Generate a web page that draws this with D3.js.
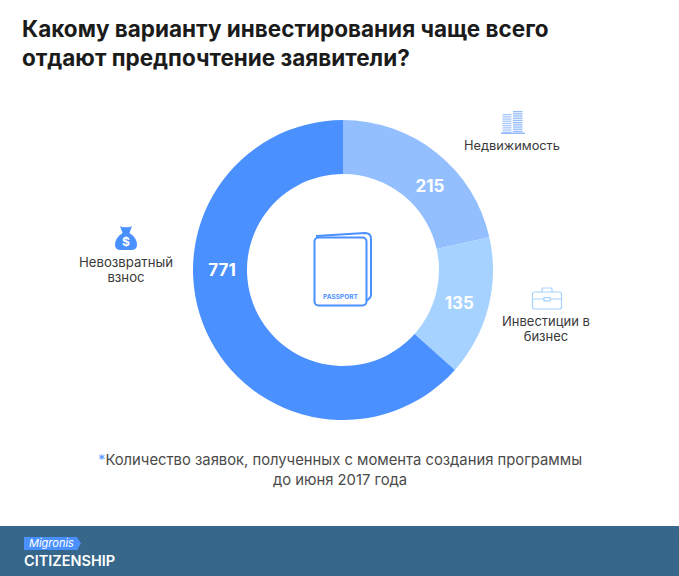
<!DOCTYPE html>
<html lang="ru">
<head>
<meta charset="utf-8">
<script src="https://cdn.jsdelivr.net/npm/d3@7"></script>
<style>
  html, body { margin: 0; padding: 0; background: #fff; }
  svg { display: block; }
  text { font-family: Inter, "Open Sans", sans-serif; }
  .title { font-size: 22.5px; font-weight: 700; fill: #1b1b1b; }
  .label { font-size: 13px; fill: #3a3a3a; text-anchor: middle; }
  .value { font-size: 17px; font-weight: 700; fill: #fff; text-anchor: middle; }
  .note { font-size: 14.8px; fill: #4a4a4a; text-anchor: middle; }
</style>
</head>
<body>
<div id="chart"></div>
<script>
const categories = ["Недвижимость", "Инвестиции в бизнес", "Невозвратный взнос"];
const values = [215, 135, 771];
// Доли дуг как на картинке (в оригинале они не пропорциональны подписям)
const arcShares = [21.5, 15.1, 63.4];
// Где стоят числа: угол от 12 часов, в градусах
const valueAngles = [46, 106, 270];
const sliceColors = ["#94bfff", "#a6d2ff", "#4b90ff"];
const titleLines = ["Какому варианту инвестирования чаще всего", "отдают предпочтение заявители?"];
const noteLines = ["Количество заявок, полученных с момента создания программы", "до июня 2017 года"];

const width = 679, height = 576;
const BLUE = "#4b90ff";

const svg = d3.select("#chart").append("svg")
  .attr("width", width).attr("height", height)
  .attr("viewBox", `0 0 ${width} ${height}`);

// Заголовок
svg.selectAll("text.title").data(titleLines).join("text")
  .attr("class", "title")
  .attr("x", 22)
  .attr("y", (d, i) => 37 + i * 29)
  .text(d => d);

// Кольцо
const cx = 343, cy = 270;
const g = svg.append("g").attr("transform", `translate(${cx},${cy})`);
const pie = d3.pie().sort(null).value((d, i) => arcShares[i]);
const arc = d3.arc().innerRadius(96).outerRadius(150);
const arcs = pie(values);

g.selectAll("path.slice").data(arcs).join("path")
  .attr("class", "slice")
  .attr("d", arc)
  .attr("fill", (d, i) => sliceColors[i]);

g.selectAll("text.value").data(arcs).join("text")
  .attr("class", "value")
  .attr("transform", (d, i) => {
    const [lx, ly] = d3.pointRadial(valueAngles[i] * Math.PI / 180, 121);
    return `translate(${lx},${ly})`;
  })
  .attr("dy", "0.35em")
  .text(d => d.data);

// Подписи категорий
const labelRows = [
  { x: 512, y: 150, size: 12.8, lines: ["Недвижимость"] },
  { x: 546, y: 326, size: 13, lines: ["Инвестиции в", "бизнес"] },
  { x: 126, y: 267, size: 13.2, lines: ["Невозвратный", "взнос"] },
];
labelRows.forEach(row => {
  svg.append("text").attr("class", "label").style("font-size", `${row.size}px`)
    .selectAll("tspan").data(row.lines).join("tspan")
    .attr("x", row.x)
    .attr("y", (d, i) => row.y + i * 15)
    .text(d => d);
});

// Паспорт в центре
const passport = svg.append("g").attr("transform", "translate(290,215)")
  .attr("fill", "none").attr("stroke", BLUE).attr("stroke-width", 2);
passport.append("path").attr("d", "M26 21 L75 18 Q81 18 81 24 L81 80 Q81 83 76 86");
passport.append("rect").attr("x", 24.5).attr("y", 22.5).attr("width", 52).attr("height", 68).attr("rx", 4).attr("fill", "#fff");
passport.append("text").attr("x", 50.5).attr("y", 84).attr("text-anchor", "middle")
  .attr("font-size", 6.5).attr("font-weight", 700).attr("fill", BLUE).attr("stroke", "none")
  .text("PASSPORT");

// Мешок с деньгами
const bag = svg.append("g").attr("transform", "translate(126,238)");
bag.append("path").attr("fill", BLUE)
  .attr("d", "M-6 -12 Q-3 -10 0 -11 Q3 -10 6 -12 L3.5 -5 Q11 0 11 7 Q11 12 5 12 L-5 12 Q-11 12 -11 7 Q-11 0 -3.5 -5 Z");
bag.append("text").attr("text-anchor", "middle").attr("y", 8)
  .attr("font-size", 12).attr("font-weight", 700).attr("fill", "#fff").text("$");

// Дома
const towers = svg.append("g").attr("transform", "translate(501,110)");
towers.append("g").selectAll("rect").data(d3.range(9)).join("rect")
  .attr("x", 1.5).attr("y", d => 4 + d * 2.2).attr("width", 9).attr("height", 1.3).attr("fill", "#a6c8fb");
towers.append("g").selectAll("rect").data(d3.range(10)).join("rect")
  .attr("x", 12).attr("y", d => 1 + d * 2.2).attr("width", 9.5).attr("height", 1.3).attr("fill", "#94bbf8");
towers.append("rect").attr("x", 0).attr("y", 22.5).attr("width", 24).attr("height", 1.5).attr("fill", "#94bbf8");

// Портфель
const brief = svg.append("g").attr("transform", "translate(532,287)")
  .attr("fill", "none").attr("stroke", "#a6d2ff").attr("stroke-width", 1.2);
brief.append("rect").attr("x", 0.5).attr("y", 5).attr("width", 29).attr("height", 17).attr("rx", 2);
brief.append("path").attr("d", "M10 5 V2 Q10 1 11 1 H19 Q20 1 20 2 V5");
brief.append("path").attr("d", "M0.5 12 H12 M18 12 H29.5");
brief.append("rect").attr("x", 12).attr("y", 10.5).attr("width", 6).attr("height", 3.5);

// Сноска
const note = svg.append("g");
note.append("text").attr("class", "note").attr("x", 340).attr("y", 465)
  .call(t => t.append("tspan").attr("fill", "#5b9bff").text("*"))
  .call(t => t.append("tspan").text(noteLines[0]));
note.append("text").attr("class", "note").attr("x", 340).attr("y", 485).text(noteLines[1]);

// Подвал с логотипом
const defs = svg.append("defs");
const hatch = defs.append("pattern").attr("id", "hatch")
  .attr("width", 3).attr("height", 3)
  .attr("patternUnits", "userSpaceOnUse")
  .attr("patternTransform", "rotate(45)");
hatch.append("rect").attr("width", 3).attr("height", 3).attr("fill", "#36658a");
hatch.append("rect").attr("width", 1).attr("height", 3).attr("fill", "#3a6a8e");

svg.append("rect").attr("y", 526).attr("width", width).attr("height", 50).attr("fill", "url(#hatch)");
svg.append("path").attr("fill", BLUE)
  .attr("d", "M24 537 H77 L81 543.5 L77 550 H24 Z");
svg.append("text").attr("x", 29).attr("y", 547)
  .attr("font-size", 11).attr("font-style", "italic").attr("fill", "#fff").text("Migronis");
svg.append("text").attr("x", 24).attr("y", 565.5)
  .attr("font-size", 14.5).attr("font-weight", 600).attr("fill", "#fff").text("CITIZENSHIP");
</script>
</body>
</html>
